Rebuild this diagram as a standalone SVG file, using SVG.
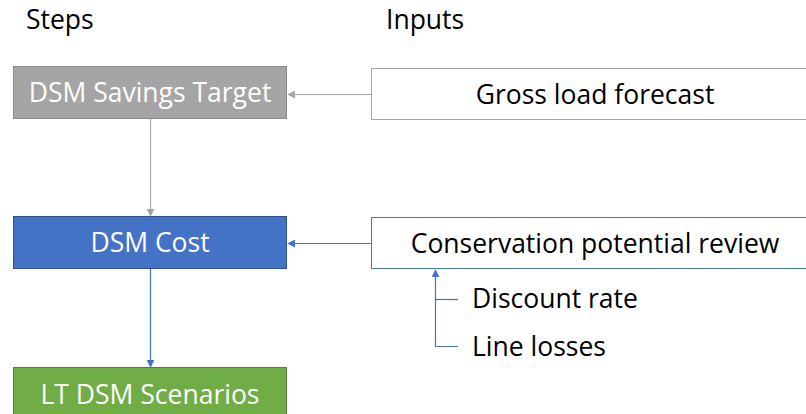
<svg xmlns="http://www.w3.org/2000/svg" width="806" height="414" viewBox="0 0 806 414">
<style>
text{font-family:"Open Sans","Noto Sans","DejaVu Sans",sans-serif;font-size:26.5px;}
.w{fill:#ffffff;text-anchor:middle;}
.k{fill:#000000;}
.c{text-anchor:middle;}
</style>
<defs>
<marker id="ag" viewBox="0 0 10 10" refX="9" refY="5" markerWidth="8" markerHeight="8" markerUnits="userSpaceOnUse" orient="auto"><path d="M0,0 L10,5 L0,10 z" fill="#a5a5a5"/></marker>
<marker id="ab" viewBox="0 0 10 10" refX="9" refY="5" markerWidth="8" markerHeight="8" markerUnits="userSpaceOnUse" orient="auto"><path d="M0,0 L10,5 L0,10 z" fill="#4472c4"/></marker>
</defs>
<rect width="806" height="414" fill="#ffffff"/>
<text class="k" x="26" y="29">Steps</text>
<text class="k" x="386" y="29">Inputs</text>
<g id="savings"><rect x="13.5" y="66.5" width="273" height="52" fill="#a5a5a5" stroke="#8a8a8a"/><text class="w" x="150" y="102">DSM Savings Target</text></g>
<g id="gross"><rect x="371.5" y="68.5" width="450" height="51" fill="#ffffff" stroke="#a5a5a5"/><text class="k c" x="595" y="104">Gross load forecast</text></g>
<g id="cost"><rect x="13.5" y="216.5" width="273" height="52" fill="#4472c4" stroke="#2f528f"/><text class="w" x="150" y="252">DSM Cost</text></g>
<g id="conservation"><rect x="371.5" y="217.5" width="450" height="51" fill="#ffffff" stroke="#4472c4"/><text class="k c" x="595" y="253">Conservation potential review</text></g>
<g id="discount"><text class="k" x="472" y="308">Discount rate</text></g>
<g id="losses"><text class="k" x="472" y="356">Line losses</text></g>
<g id="scenarios"><rect x="13.5" y="367.5" width="273" height="60" fill="#70ad47" stroke="#548235"/><text class="w" x="150" y="404">LT DSM Scenarios</text></g>
<g id="connectors" fill="none">
<line x1="371" y1="94.5" x2="288" y2="94.5" stroke="#a5a5a5" stroke-width="1.2" marker-end="url(#ag)"/>
<line x1="150.5" y1="119" x2="150.5" y2="216" stroke="#a5a5a5" stroke-width="1.2" marker-end="url(#ag)"/>
<line x1="371" y1="243.5" x2="288" y2="243.5" stroke="#4472c4" stroke-width="1.2" marker-end="url(#ab)"/>
<line x1="150.5" y1="269" x2="150.5" y2="367" stroke="#4472c4" stroke-width="1.2" marker-end="url(#ab)"/>
<polyline points="458,346.5 435.5,346.5 435.5,270" stroke="#4472c4" stroke-width="1.2" marker-end="url(#ab)"/>
<line x1="435.5" y1="299.5" x2="458" y2="299.5" stroke="#4472c4" stroke-width="1.2"/>
</g>
</svg>
